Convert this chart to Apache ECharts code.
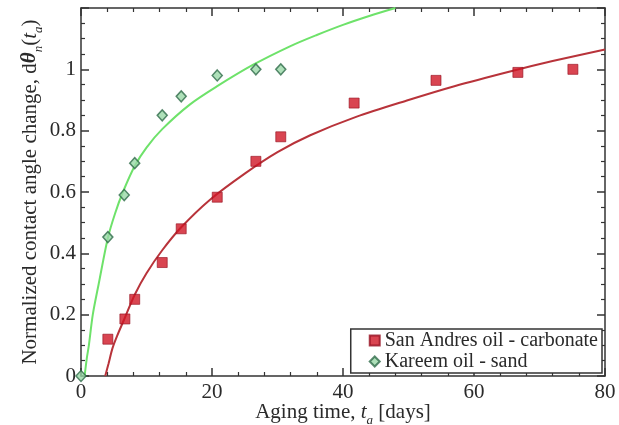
<!DOCTYPE html>
<html>
<head>
<meta charset="utf-8">
<script src="https://cdn.jsdelivr.net/npm/echarts@6/dist/echarts.min.js"></script>
<style>
  html, body { margin: 0; padding: 0; background: #fff; }
  #chart { width: 619px; height: 425px; }
</style>
</head>
<body>
<div id="chart"></div>
<script>
// measured points
const sanAndresT = [4.1, 6.7, 8.2, 12.4, 15.3, 20.8, 26.7, 30.5, 41.7, 54.2, 66.7, 75.1]
const sanAndresY = [0.12, 0.186, 0.25, 0.37, 0.48, 0.583, 0.70, 0.78, 0.89, 0.964, 0.99, 1.0]
const kareemT = [0, 4.1, 6.6, 8.2, 12.4, 15.3, 20.8, 26.7, 30.5]
const kareemY = [0, 0.453, 0.59, 0.694, 0.85, 0.912, 0.98, 1.0, 1.0]

// fitted curves
const redFitT = [3.7, 4.2, 4.8, 5.5, 6.7, 8.2, 10, 12.4, 15.3, 19.7, 25, 30, 35, 42, 50, 57, 65.5, 72, 80]
const redFitY = [0, 0.04, 0.09, 0.13, 0.19, 0.265, 0.335, 0.41, 0.485, 0.575, 0.66, 0.73, 0.785, 0.845, 0.9, 0.945, 0.993, 1.027, 1.065]
const greenFitT = [0.55, 0.9, 1.2, 1.8, 2.7, 4.1, 5.2, 6.4, 8.2, 10, 12.4, 16.6, 20.8, 26.3, 31.9, 36, 40, 44, 48]
const greenFitY = [0, 0.06, 0.1, 0.2, 0.3, 0.45, 0.53, 0.6, 0.685, 0.745, 0.805, 0.885, 0.945, 1.015, 1.075, 1.112, 1.145, 1.174, 1.2]

const xTicks = [0, 20, 40, 60, 80]
const yTicks = [0, 0.2, 0.4, 0.6, 0.8, 1]

const zip = (xs, ys) => xs.map((x, i) => [x, ys[i]])

const serif = 'Liberation Serif'
const ink = '#2a2a2a'
const frame = { show: true, onZero: false, lineStyle: { color: '#333', width: 1.5 } }
const tick = { show: true, inside: true, length: 8, lineStyle: { color: '#333', width: 1.5 } }
const minor = { show: true, length: 4, lineStyle: { color: '#333', width: 1.2 } }

const nameRich = {
  n: { fontFamily: serif, fontSize: 21, color: ink },
  th: { fontFamily: serif, fontSize: 21, fontStyle: 'italic', fontWeight: 'bold', color: ink },
  t: { fontFamily: serif, fontSize: 21, fontStyle: 'italic', color: ink },
  s: { fontFamily: serif, fontSize: 13, fontStyle: 'italic', color: ink, verticalAlign: 'bottom', lineHeight: 30 }
}

const chart = echarts.init(document.getElementById('chart'))

chart.setOption({
  backgroundColor: '#fff',
  animation: false,
  grid: { left: 81, right: 14, top: 8, bottom: 49, outerBoundsMode: 'none', containLabel: false },
  legend: {
    orient: 'vertical',
    right: 17,
    bottom: 52,
    data: ['San Andres oil - carbonate', 'Kareem oil - sand'],
    itemGap: 0,
    itemWidth: 10,
    itemHeight: 10,
    padding: [1, 4, 1, 18],
    borderColor: '#333',
    borderWidth: 1.5,
    backgroundColor: '#fff',
    textStyle: { fontFamily: serif, fontSize: 20, color: ink, lineHeight: 21 }
  },
  xAxis: [
    {
      type: 'value',
      min: 0,
      max: 80,
      interval: 20,
      position: 'bottom',
      name: '{n|Aging time, }{t|t}{s|a}{n| [days]}',
      nameLocation: 'middle',
      nameGap: 21,
      nameMoveOverlap: false,
      nameTextStyle: { rich: nameRich },
      axisLine: frame,
      axisTick: tick,
      minorTick: { ...minor, splitNumber: 5 },
      splitLine: { show: false },
      axisLabel: {
        fontFamily: serif, fontSize: 21, color: ink, margin: 6,
        formatter: v => xTicks.includes(v) ? String(v) : ''
      }
    },
    {
      type: 'value',
      min: 0,
      max: 80,
      interval: 20,
      position: 'top',
      axisLine: frame,
      axisTick: tick,
      minorTick: { ...minor, splitNumber: 5 },
      splitLine: { show: false },
      axisLabel: { show: false }
    }
  ],
  yAxis: [
    {
      type: 'value',
      min: 0,
      max: 1.2,
      interval: 0.2,
      position: 'left',
      name: '{n|Normalized contact angle change, d}{th|θ}{s|n}{n|(}{t|t}{s|a}{n|)}',
      nameLocation: 'middle',
      nameGap: 36,
      nameMoveOverlap: false,
      nameTextStyle: { rich: nameRich },
      axisLine: frame,
      axisTick: tick,
      minorTick: { ...minor, splitNumber: 4 },
      splitLine: { show: false },
      axisLabel: {
        fontFamily: serif, fontSize: 21, color: ink, margin: 5,
        formatter: v => {
          const hit = yTicks.find(t => Math.abs(t - v) < 1e-6)
          return hit === undefined ? '' : String(hit)
        }
      }
    },
    {
      type: 'value',
      min: 0,
      max: 1.2,
      interval: 0.2,
      position: 'right',
      axisLine: frame,
      axisTick: tick,
      minorTick: { ...minor, splitNumber: 4 },
      splitLine: { show: false },
      axisLabel: { show: false }
    }
  ],
  series: [
    {
      name: 'fit-green',
      type: 'line',
      data: zip(greenFitT, greenFitY),
      smooth: 0.3,
      showSymbol: false,
      lineStyle: { color: '#6ee26a', width: 2 },
      z: 2
    },
    {
      name: 'fit-red',
      type: 'line',
      data: zip(redFitT, redFitY),
      smooth: 0.3,
      showSymbol: false,
      lineStyle: { color: '#b8333a', width: 2 },
      z: 2
    },
    {
      name: 'San Andres oil - carbonate',
      type: 'scatter',
      data: zip(sanAndresT, sanAndresY),
      symbol: 'rect',
      symbolSize: 10,
      clip: false,
      itemStyle: { color: '#d01626', borderColor: '#961020', borderWidth: 0.8 },
      z: 3
    },
    {
      name: 'Kareem oil - sand',
      type: 'scatter',
      data: zip(kareemT, kareemY),
      symbol: 'diamond',
      symbolSize: [10, 11],
      clip: false,
      itemStyle: { color: '#9ad8a8', borderColor: '#2f6b4a', borderWidth: 1.5 },
      z: 3
    }
  ]
})
</script>
</body>
</html>
